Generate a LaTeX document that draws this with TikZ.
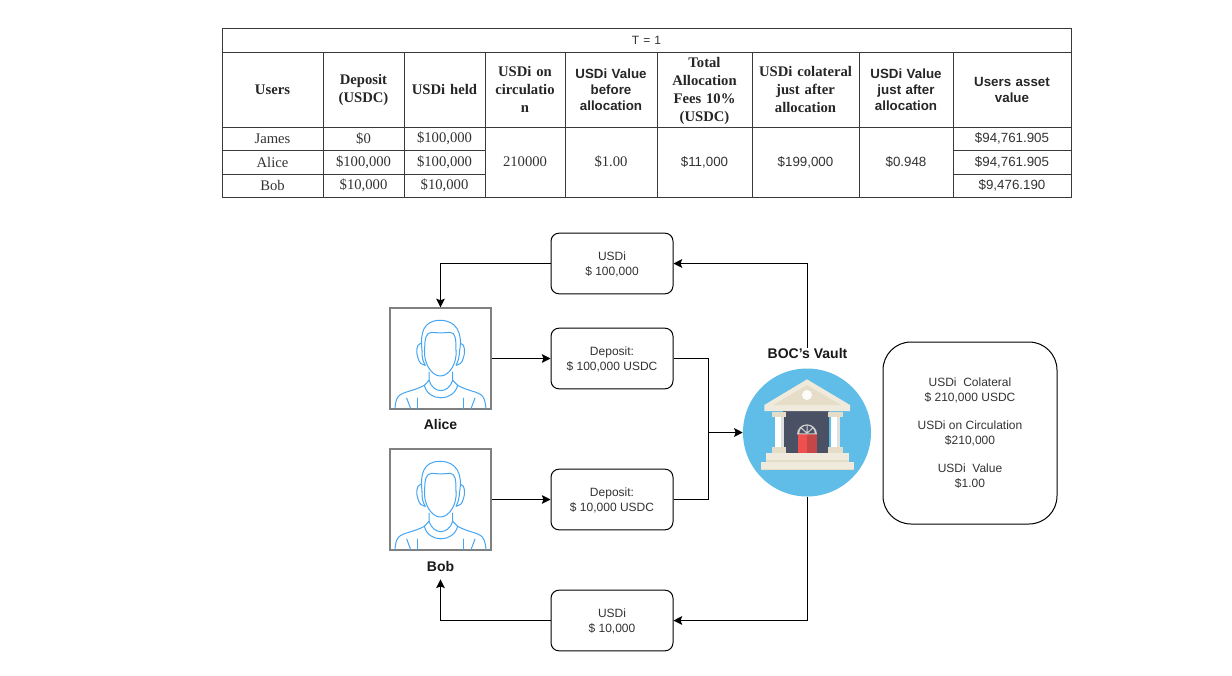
\documentclass[tikz,border=0pt]{standalone}
\usepackage{fontspec}
\setmainfont{Liberation Sans}
\newfontfamily\serifcell{Liberation Serif}
\usetikzlibrary{arrows.meta}
\definecolor{grid}{HTML}{3A3A3A}
\definecolor{txt}{HTML}{333333}
\definecolor{person}{HTML}{45A5F2}
\definecolor{framegray}{HTML}{808080}
\definecolor{sky}{HTML}{5FBDE8}
\definecolor{beige}{HTML}{E6DDC9}
\definecolor{cream}{HTML}{F0EADC}
\definecolor{slatewall}{HTML}{4A5164}
\definecolor{doorred}{HTML}{EE5050}
\definecolor{doordark}{HTML}{C44646}
\tikzset{
  x=0.75pt,y=-0.75pt,
  cellbase/.style={draw=grid,line width=0.75pt,inner sep=0pt,align=center,text=txt},
  sansbody/.style={cellbase,font=\fontsize{10}{12}\selectfont},
  sanshead/.style={cellbase,font=\fontsize{10}{12}\selectfont\bfseries,text=black!85},
  serifbody/.style={cellbase,font=\fontsize{11}{13.5}\selectfont\serifcell},
  serifhead/.style={cellbase,font=\fontsize{11}{13.5}\selectfont\serifcell\bfseries,text=black!85},
  titlecell/.style={cellbase,font=\fontsize{9}{11}\selectfont},
  flowbox/.style={draw=black,line width=0.75pt,rounded corners=6pt,minimum width=91.5pt,minimum height=45.5pt,inner sep=0pt,align=center,text=txt,font=\fontsize{9}{10.8}\selectfont},
  infobox/.style={draw=black,line width=0.75pt,rounded corners=21pt,minimum width=130.5pt,minimum height=136.5pt,inner sep=0pt,align=center,text=txt,font=\fontsize{9}{10.9}\selectfont},
  userframe/.style={draw=framegray,line width=1pt,minimum width=75.75pt,minimum height=75.75pt,inner sep=0pt},
  namelabel/.style={inner sep=0pt,font=\fontsize{10.5}{12}\selectfont\bfseries,text=black!90},
  flowarrow/.style={draw=black,line width=0.75pt,-{Stealth[length=6.5pt,width=6.5pt,inset=1.2pt]}},
  flowline/.style={draw=black,line width=0.75pt},
  personline/.style={draw=person,line width=0.75pt,line cap=round,line join=round},
}
\newcommand{\topstrut}[1]{\rule{0pt}{#1}}
% \cell{name}{x0}{y0}{x1}{y1}{style}{text}
\newcommand{\cell}[7]{%
  \pgfmathsetmacro{\cw}{(#4-#2)*0.75}%
  \pgfmathsetmacro{\ch}{(#5-#3)*0.75}%
  \node[#6,minimum width=\cw pt,minimum height=\ch pt,text width=\cw pt-2pt] (#1) at ({(#2+#4)/2},{(#3+#5)/2}) {#7};}
% person line art, local coordinates are the 3x crop offsets from the frame corner
\newcommand{\personart}[2]{%
  \begin{scope}[xshift=#1*0.75pt,yshift=-#2*0.75pt,x=0.25pt,y=-0.25pt,personline]
    \draw (96,127) .. controls (90,75) and (100,37) .. (150,37) .. controls (200,37) and (218,75) .. (209,127) .. controls (208,145) and (205,160) .. (198,172);
    \draw (96,127) .. controls (95,145) and (98,160) .. (106,172);
    \draw (104,127) .. controls (104,90) and (108,74) .. (125,73) .. controls (140,75) and (165,75) .. (180,73) .. controls (196,74) and (198,90) .. (198,127);
    \draw (104,127) .. controls (100,165) and (125,204) .. (151,204) .. controls (178,204) and (202,165) .. (198,127);
    \draw (92,106) .. controls (78,108) and (78,135) .. (84,150) .. controls (88,165) and (95,170) .. (104,172);
    \draw (212,106) .. controls (226,108) and (226,135) .. (220,150) .. controls (216,165) and (209,170) .. (200,172);
    \draw (117,192) -- (117,217) .. controls (130,258) and (175,258) .. (188,217) -- (188,192);
    \draw (103,232) .. controls (115,282) and (190,282) .. (203,232);
    \draw (117,217) -- (103,232) .. controls (70,250) and (40,250) .. (25,265) .. controls (17,275) and (16,290) .. (15,302);
    \draw (188,217) -- (203,232) .. controls (235,250) and (265,250) .. (278,265) .. controls (285,275) and (287,290) .. (288,302);
    \draw (50,270) -- (62,302);
    \draw (83,270) -- (83,302);
    \draw (220,270) -- (220,302);
    \draw (255,270) -- (243,302);
  \end{scope}}
\begin{document}
\begin{tikzpicture}
\useasboundingbox (0,0) rectangle (1232,675);
\fill[white] (0,0) rectangle (1232,675);

% table
\cell{title}{222}{28}{1071}{52}{titlecell}{T = 1}
\cell{hUsers}{222}{52}{323}{127}{serifhead}{Users}
\cell{hDep}{323}{52}{404}{127}{serifhead}{Deposit\\(USDC)}
\cell{hHeld}{404}{52}{485}{127}{serifhead}{USDi held}
\cell{hCirc}{485}{52}{565}{127}{serifhead}{USDi on\\circulatio\\n}
\cell{hBefore}{565}{52}{657}{127}{sanshead}{USDi Value\\before\\allocation}
\cell{hFees}{657}{52}{752}{127}{serifhead}{\topstrut{10.5pt}Total\\Allocation\\Fees 10\%\\(USDC)}
\cell{hColl}{752}{52}{859}{127}{serifhead}{USDi colateral\\just after\\allocation}
\cell{hAfter}{859}{52}{953}{127}{sanshead}{USDi Value\\just after\\allocation}
\cell{hAsset}{953}{52}{1071}{127}{sanshead}{Users asset\\value\\[6pt]}
\cell{u1}{222}{127}{323}{150}{serifbody}{James}
\cell{u2}{222}{150}{323}{174}{serifbody}{Alice}
\cell{u3}{222}{174}{323}{197}{serifbody}{Bob}
\cell{d1}{323}{127}{404}{150}{serifbody}{\$0}
\cell{d2}{323}{150}{404}{174}{serifbody}{\$100,000}
\cell{d3}{323}{174}{404}{197}{serifbody}{\$10,000}
\cell{e1}{404}{127}{485}{150}{serifbody}{\$100,000}
\cell{e2}{404}{150}{485}{174}{serifbody}{\$100,000}
\cell{e3}{404}{174}{485}{197}{serifbody}{\$10,000}
\cell{circ}{485}{127}{565}{197}{serifbody}{210000}
\cell{before}{565}{127}{657}{197}{serifbody}{\$1.00}
\cell{fees}{657}{127}{752}{197}{sansbody}{\$11,000}
\cell{coll}{752}{127}{859}{197}{sansbody}{\$199,000}
\cell{after}{859}{127}{953}{197}{sansbody}{\$0.948}
\cell{a1}{953}{127}{1071}{150}{sansbody}{\$94,761.905}
\cell{a2}{953}{150}{1071}{174}{sansbody}{\$94,761.905}
\cell{a3}{953}{174}{1071}{197}{sansbody}{\$9,476.190}

% users
\node[userframe] (alice) at (440.5,358.5) {};
\node[userframe] (bob) at (440.5,499.5) {};
\personart{390}{308}
\personart{390}{449}
\node[namelabel] (alicelabel) at (440.5,424.5) {Alice};
\node[namelabel] (boblabel) at (440.5,566) {Bob};

% flow boxes
\node[flowbox] (usdiTop) at (612,263.5) {\topstrut{8pt}USDi\\\$ 100,000};
\node[flowbox] (depA) at (612,358.5) {\topstrut{8pt}Deposit:\\\$ 100,000 USDC};
\node[flowbox] (depB) at (612,499.5) {\topstrut{8pt}Deposit:\\\$ 10,000 USDC};
\node[flowbox] (usdiBot) at (612,620.5) {\topstrut{8pt}USDi\\\$ 10,000};

% vault
\node[circle,fill=sky,minimum size=96pt,inner sep=0pt] (vault) at (807,432.5) {};
\node[namelabel] (vaultlabel) at (807.5,353) {BOC's Vault};
\begin{scope}[xshift=735*0.75pt,yshift=-340*0.75pt,x=0.25pt,y=-0.25pt]
  \fill[slatewall] (145,213) rectangle (281,340);
  \fill[cream] (216,118) -- (345,195) -- (345,213) -- (88,213) -- (88,195) -- cycle;
  \fill[beige] (216,135) -- (318,195) -- (115,195) -- cycle;
  \fill[white!92!beige] (216,165) circle (15);
  \foreach \cx in {110,280}{
    \fill[beige] (\cx,216) rectangle ++(44,16);
    \fill[beige] (\cx,322) rectangle ++(44,18);
    \fill[white] (\cx+9,232) rectangle ++(27,90);
    \fill[black!12] (\cx+27,232) rectangle ++(9,90);
  }
  \fill[doorred] (188,283) rectangle (217,340);
  \fill[doordark] (217,283) rectangle (245,340);
  \fill[black!18] (186,283) arc[start angle=180,end angle=360,radius=30] -- cycle;
  \fill[slatewall] (193,280) arc[start angle=180,end angle=360,radius=23] -- cycle;
  \draw[black!18,line width=0.75pt] (216,280) -- (216,257) (216,280) -- (199,264) (216,280) -- (233,264);
  \fill[cream] (92,340) rectangle (342,365);
  \fill[beige] (92,360) rectangle (342,365);
  \fill[cream] (78,365) rectangle (356,391);
  \fill[beige] (78,386) rectangle (356,391);
\end{scope}

% info
\node[infobox] (info) at (970,433) {USDi\ \ Colateral\\\$ 210,000 USDC\\[10.5pt]USDi on Circulation\\\$210,000\\[10.5pt]USDi\ \ Value\\\$1.00};

% connectors
\draw[flowarrow] (vaultlabel.north -| vault.north) |- (usdiTop.east);
\draw[flowarrow] (usdiTop.west) -| (alice.north);
\draw[flowarrow] (alice.east) -- (depA.west);
\draw[flowarrow] (bob.east) -- (depB.west);
\coordinate (merge) at (708,432.5);
\draw[flowline] (depA.east) -| (merge);
\draw[flowline] (depB.east) -| (merge);
\draw[flowarrow] (merge) -- (vault.west);
\draw[flowarrow] (vault.south) |- (usdiBot.east);
\draw[flowarrow,shorten >=6pt] (usdiBot.west) -| (boblabel.south);
\end{tikzpicture}
\end{document}
